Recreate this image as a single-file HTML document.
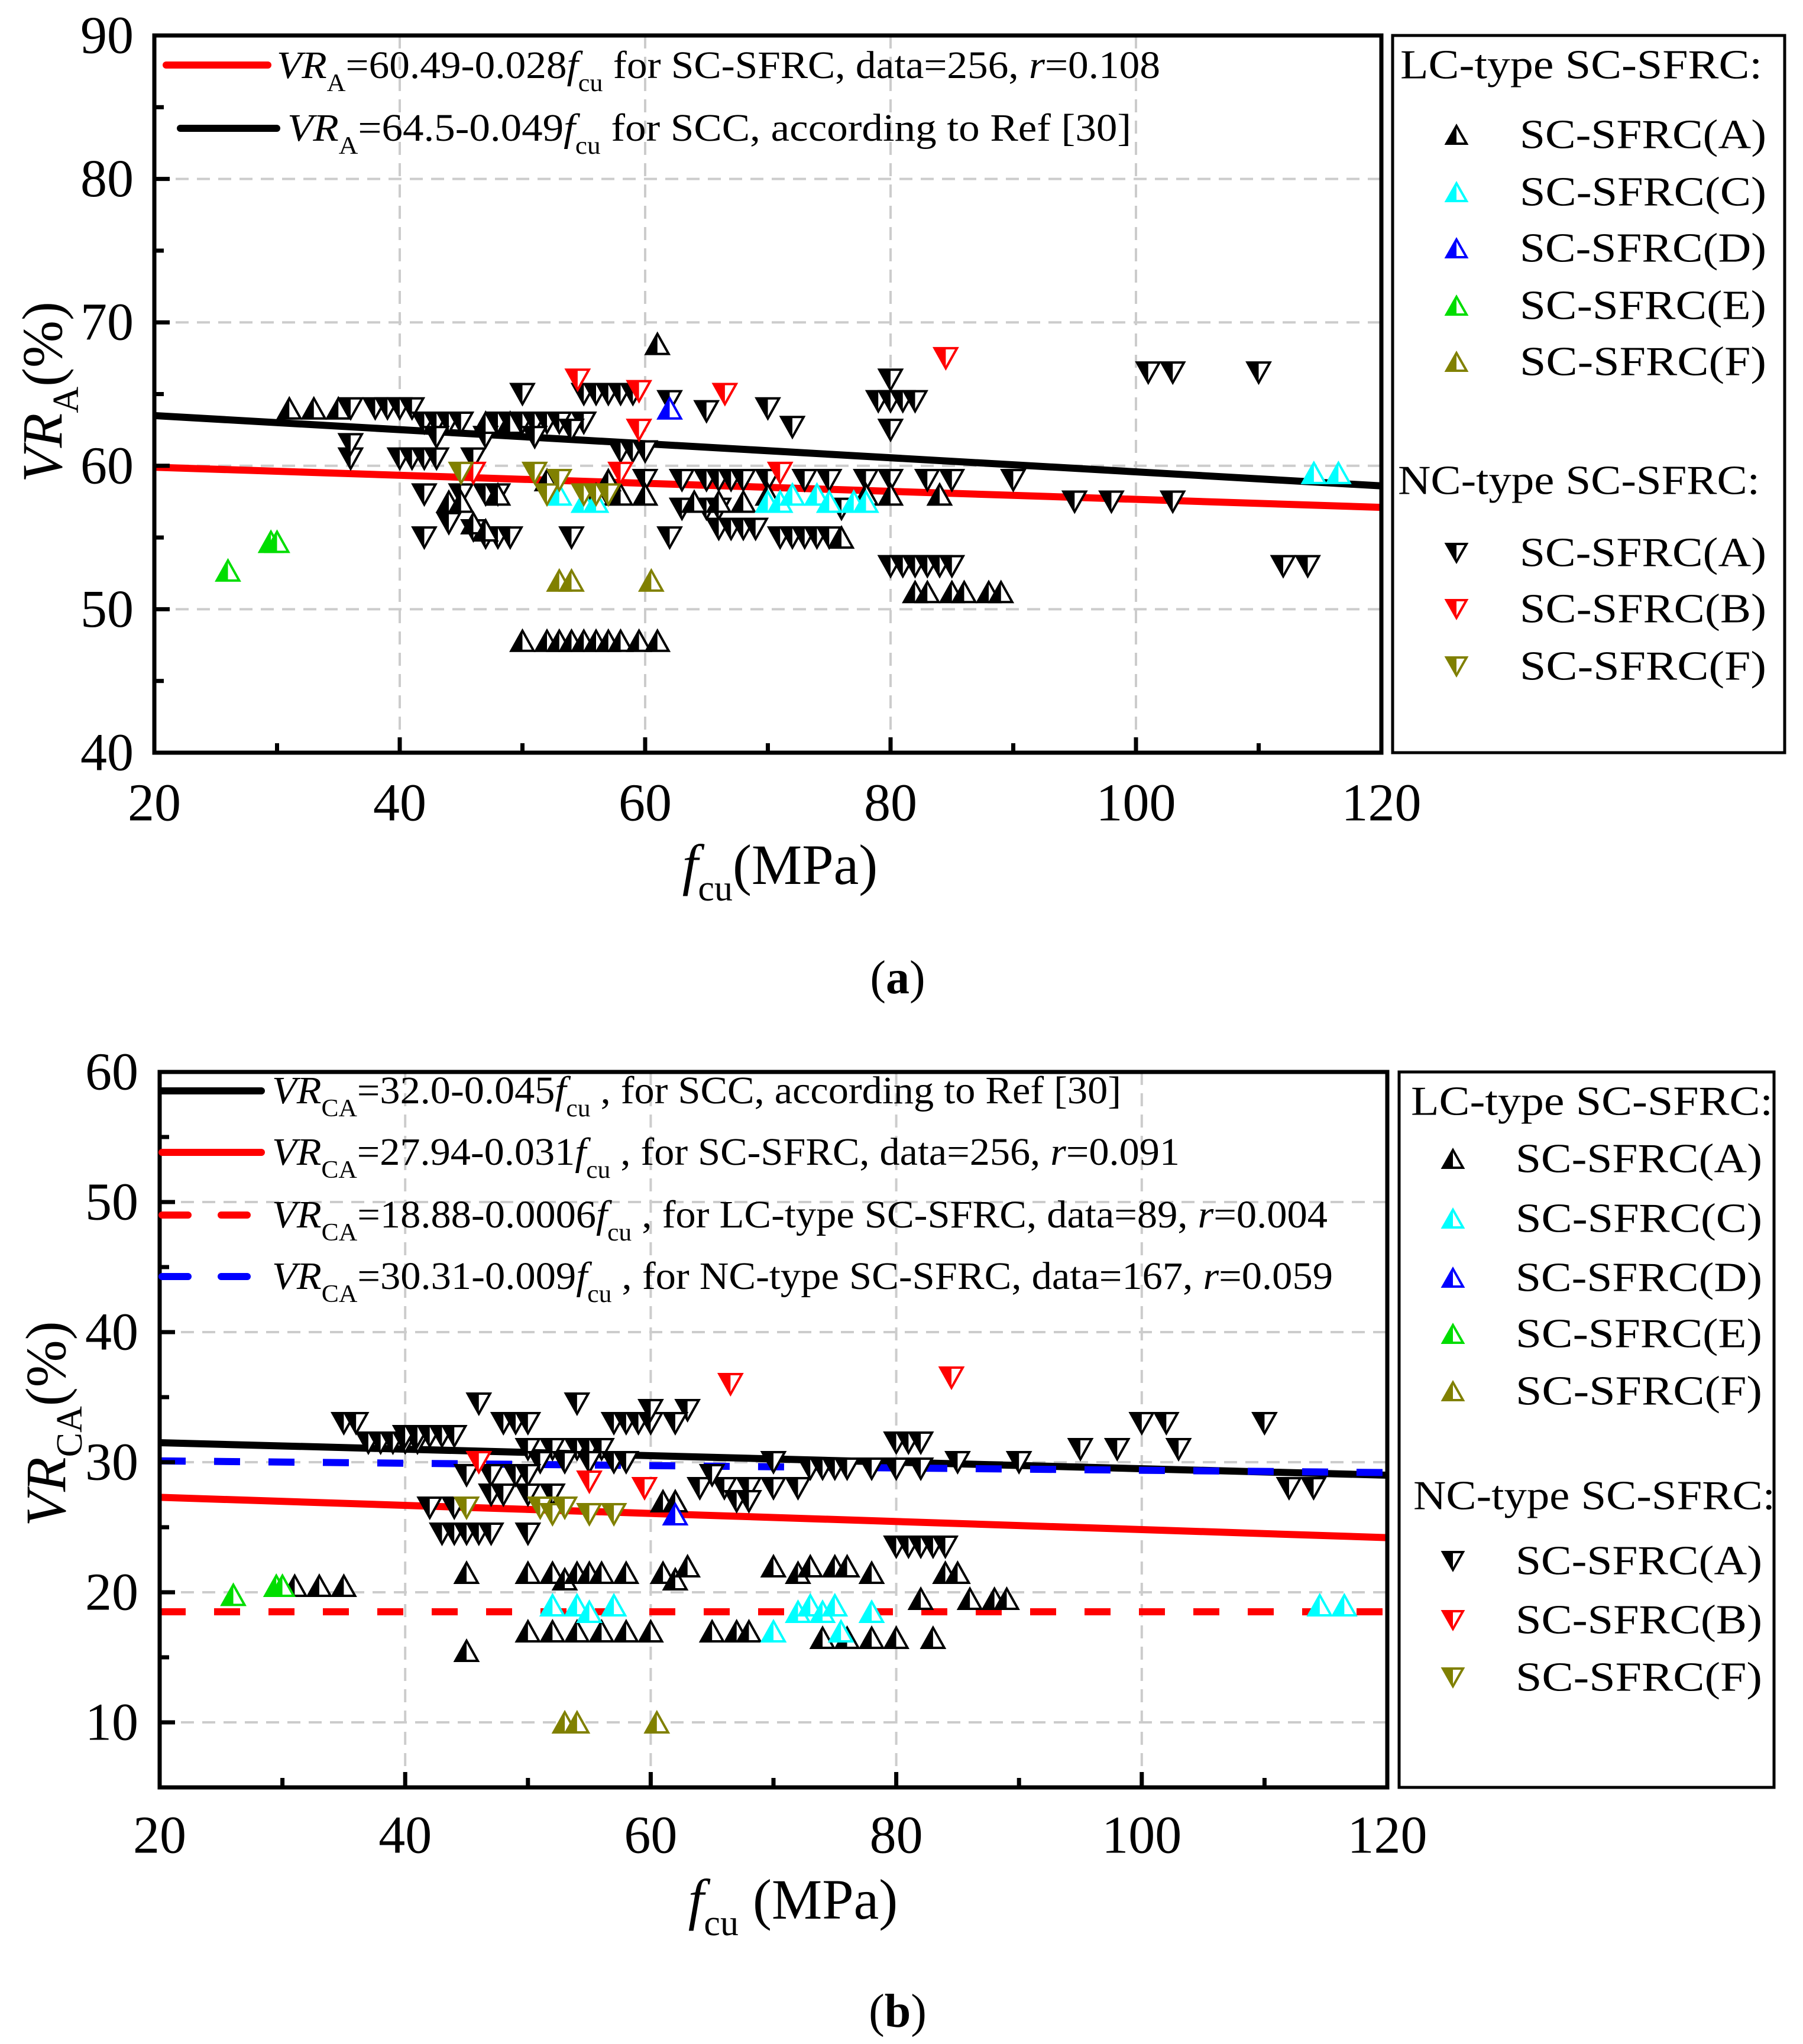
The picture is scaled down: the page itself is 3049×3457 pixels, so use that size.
<!DOCTYPE html>
<html><head><meta charset="utf-8"><style>
html,body{margin:0;padding:0;background:#fff}
svg{display:block;font-family:"Liberation Serif",serif}
</style></head><body>
<svg id="fig" width="3049" height="3457" viewBox="0 0 3049 3457" xmlns="http://www.w3.org/2000/svg" font-family="Liberation Serif, serif">
<rect width="3049" height="3457" fill="#fff"/>
</svg>
<script>
// ---------- DATA: panel (a) ----------
const aXTicks=[20,40,60,80,100,120];
const aYTicks=[40,50,60,70,80,90];
const aLcA=[[61,68.5],[31,64],[33,64],[35,64],[44,57.5],[45,57.5],[46,56],[47,55.5],[48,58],[50,47.8],[52,47.8],[53,47.8],[54,47.8],[55,47.8],[56,47.8],[57,47.8],[58,47.8],[59.5,47.8],[61,47.8],[56,58],[58,58],[60,58],[64,57.5],[66,57.5],[68,57.5],[70,58],[76,55],[78,58],[80,58],[82,51.2],[83,51.2],[85,51.2],[86,51.2],[88,51.2],[89,51.2],[84,58],[52,59],[57,59],[47,63],[49,63]];
const aLcC=[[53,58],[55,57.5],[56,57.5],[70,57.5],[71,57.5],[72,58],[74,58],[75,57.5],[77,57.5],[78,57.5],[114.5,59.5],[116.5,59.5]];
const aLcD=[[62,64]];
const aLcE=[[26,52.7],[29.5,54.7],[30,54.7]];
const aLcF=[[53,52],[54,52],[60.5,52]];
const aNcA=[[36,64],[38,64],[39,64],[40,64],[41,64],[42,63],[43,63],[44,63],[45,63],[48,63],[49,63],[50,63],[51,63],[52,63],[53,63],[55,63],[43,62],[47,62],[36,60.5],[40,60.5],[41,60.5],[42,60.5],[43,60.5],[46,60.5],[42,58],[45,58],[47,58],[48,58],[42,55],[47,55],[48,55],[49,55],[54,55],[50,65],[55,65],[56,65],[57,65],[58,65],[59,65],[58,61],[59,61],[60,61],[62,64.5],[65,63.8],[72,62.7],[70,64],[80,66],[79,64.5],[80,64.5],[81,64.5],[82,64.5],[80,62.5],[60,59],[63,59],[65,59],[66,59],[67,59],[68,59],[70,59],[73,59],[75,59],[78,59],[80,59],[83,59],[85,59],[63,57],[65,57],[66,57],[66,55.6],[67,55.6],[68,55.6],[69,55.6],[62,55],[71,55],[72,55],[73,55],[74,55],[75,55],[76,57],[80,53],[81,53],[82,53],[83,53],[84,53],[85,53],[90,59],[95,57.5],[98,57.5],[103,57.5],[101,66.5],[103,66.5],[110,66.5],[112,53],[114,53],[36,61.5],[44,56],[46,55.5],[51,62],[54,62.5]];
const aNcB=[[54.5,66],[59.5,65.2],[66.5,65],[84.5,67.5],[59.5,62.5],[46,59.5],[58,59.5],[71,59.5]];
const aNcF=[[45,59.5],[51,59.5],[52,58],[55,58],[56,58],[57,58],[53,59]];
const aRedLine=[59.9,57.1];
const aBlackLine=[63.5,58.6];
// ---------- DATA: panel (b) ----------
const bXTicks=[20,40,60,80,100,120];
const bYTicks=[10,20,30,40,50,60];
const bLcA=[[45,21.5],[45,15.5],[50,21.5],[52,21.5],[53,21],[54,21.5],[55,21.5],[56,21.5],[58,21.5],[61,21.5],[62,21],[63,22],[70,22],[72,21.5],[73,22],[75,22],[76,22],[78,21.5],[82,19.5],[84,21.5],[85,21.5],[86,19.5],[88,19.5],[89,19.5],[31,20.5],[33,20.5],[35,20.5],[50,17],[52,17],[54,17],[56,17],[58,17],[60,17],[65,17],[67,17],[68,17],[74,16.5],[76,16.5],[78,16.5],[80,16.5],[83,16.5],[61,27],[62,27]];
const bLcC=[[52,19],[54,19],[55,18.5],[57,19],[70,17],[72,18.5],[73,19],[74,18.5],[75,19],[75.5,17],[78,18.5],[114.5,19],[116.5,19]];
const bLcD=[[62,26]];
const bLcE=[[26,19.8],[29.5,20.5],[30,20.5]];
const bLcF=[[53,10],[54,10],[60.5,10]];
const bNcA=[[35,33],[36,33],[37,31.5],[38,31.5],[39,31.5],[40,31.5],[41,31.5],[40,32],[41,32],[42,32],[43,32],[44,32],[46,34.5],[48,33],[49,33],[50,33],[50,31],[52,31],[54,31],[55,31],[56,31],[54,34.5],[57,33],[58,33],[59,33],[60,33],[60,34],[63,34],[62,33],[51,30],[53,30],[55,30],[57,30],[58,30],[45,29],[47,29],[49,29],[50,29],[47,27.5],[48,27.5],[50,27.5],[52,27.5],[42,26.5],[44,26.5],[43,24.5],[44,24.5],[45,24.5],[46,24.5],[47,24.5],[50,24.5],[64,28],[66,28],[68,28],[70,28],[72,28],[67,27],[68,27],[73,29.5],[74,29.5],[75,29.5],[76,29.5],[78,29.5],[80,29.5],[80,31.5],[81,31.5],[82,31.5],[82,29.5],[85,30],[90,30],[95,31],[98,31],[100,33],[102,33],[103,31],[110,33],[112,28],[114,28],[80,23.5],[81,23.5],[82,23.5],[83,23.5],[84,23.5],[65,29],[70,30]];
const bNcB=[[46,30],[55,28.5],[59.5,28],[66.5,36],[84.5,36.5]];
const bNcF=[[45,26.5],[51,26.5],[52,26],[53,26.5],[55,26],[57,26]];
const bBlackLine=[31.5,29.0];
const bRedLine=[27.3,24.2];
const bRedDash=[18.5,18.5];
const bBlueDash=[30.1,29.2];

const NS="http://www.w3.org/2000/svg";
const svg=document.getElementById('fig');
function el(tag,attrs,parent){const e=document.createElementNS(NS,tag);for(const k in attrs)e.setAttribute(k,attrs[k]);(parent||svg).appendChild(e);return e;}

function tri(g,cx,cy,color,up){
  const w=19,h=17;
  let pts,left;
  if(up){pts=`${cx-w},${cy+h} ${cx},${cy-h} ${cx+w},${cy+h}`;left=`${cx-w},${cy+h} ${cx},${cy-h} ${cx},${cy+h}`;}
  else{pts=`${cx-w},${cy-h} ${cx+w},${cy-h} ${cx},${cy+h}`;left=`${cx-w},${cy-h} ${cx},${cy-h} ${cx},${cy+h}`;}
  const a=el('polygon',{points:pts,fill:'#fff',stroke:color,'stroke-width':4,'stroke-linejoin':'miter'},g);
  
  
  const b=el('polygon',{points:left,fill:color},g);
  
  
}

function panel(cfg){
  const {x0,x1,yTop,yBot,ymin,ymax,yTicks,xTicks,name}=cfg;
  const g=el('g',{});
  
  
  const X=v=>x0+(v-20)/100*(x1-x0);
  const Y=v=>yBot-(v-ymin)/(ymax-ymin)*(yBot-yTop);
  xTicks.forEach(v=>{if(v>20&&v<120){const l=el('line',{x1:X(v),x2:X(v),y1:yTop,y2:yBot,stroke:'#ccc','stroke-width':4,'stroke-dasharray':'22 14'},g);}});
  yTicks.forEach(v=>{if(v>ymin&&v<ymax){const l=el('line',{x1:x0,x2:x1,y1:Y(v),y2:Y(v),stroke:'#ccc','stroke-width':4,'stroke-dasharray':'22 14'},g);}});
  cfg.lines.forEach(L=>{
    const l=el('line',{x1:X(20),x2:X(120),y1:Y(L.v[0]),y2:Y(L.v[1]),stroke:L.c,'stroke-width':12},g);
    if(L.dash)l.setAttribute('stroke-dasharray','44 48');
    
    
  });
  cfg.series.forEach(S=>{
    const sg=el('g',{},g);
    
    
    S.d.forEach(p=>tri(sg,X(p[0]),Y(p[1]),S.c,S.up));
  });
  const f=el('rect',{x:x0,y:yTop,width:x1-x0,height:yBot-yTop,fill:'none',stroke:'#000','stroke-width':7},g);
  
  
  for(let v=ymin;v<=ymax;v+=5){const major=yTicks.includes(v);const t=el('line',{x1:x0,x2:x0+(major?26:16),y1:Y(v),y2:Y(v),stroke:'#000','stroke-width':7},g);}
  for(let v=20;v<=120;v+=10){const major=xTicks.includes(v);const t=el('line',{x1:X(v),x2:X(v),y1:yBot,y2:yBot-(major?26:16),stroke:'#000','stroke-width':7},g);}
  yTicks.forEach(v=>{const t=el('text',{x:cfg.yLabX,y:Y(v),'font-size':90,'font-family':'Liberation Serif, serif','text-anchor':'end','dominant-baseline':'central'},g);t.textContent=v;});
  xTicks.forEach(v=>{const t=el('text',{x:X(v),y:cfg.xLabY,'font-size':90,'font-family':'Liberation Serif, serif','text-anchor':'middle','dominant-baseline':'central'},g);t.textContent=v;});
  return g;
}

panel({name:'panel-a',x0:261,x1:2336,yTop:60,yBot:1273,ymin:40,ymax:90,yTicks:aYTicks,xTicks:aXTicks,yLabX:226,xLabY:1358,
  lines:[{v:aBlackLine,c:'#000',n:'scc-fit-line'},{v:aRedLine,c:'#f00',n:'sc-sfrc-fit-line'}],
  series:[{d:aNcA,c:'#000',up:false,n:'nc-a-series'},{d:aLcA,c:'#000',up:true,n:'lc-a-series'},{d:aLcC,c:'#00ffff',up:true,n:'lc-c-series'},{d:aLcD,c:'#0000ff',up:true,n:'lc-d-series'},{d:aLcE,c:'#00dd00',up:true,n:'lc-e-series'},{d:aLcF,c:'#808000',up:true,n:'lc-f-series'},{d:aNcB,c:'#f00',up:false,n:'nc-b-series'},{d:aNcF,c:'#808000',up:false,n:'nc-f-series'}]});
panel({name:'panel-b',x0:270,x1:2346,yTop:1813,yBot:3023,ymin:5,ymax:60,yTicks:bYTicks,xTicks:bXTicks,yLabX:234,xLabY:3104,
  lines:[{v:bBlackLine,c:'#000',n:'scc-fit-line'},{v:bRedLine,c:'#f00',n:'sc-sfrc-fit-line'},{v:bRedDash,c:'#f00',dash:1,n:'lc-fit-line'},{v:bBlueDash,c:'#0000ff',dash:1,n:'nc-fit-line'}],
  series:[{d:bNcA,c:'#000',up:false,n:'nc-a-series'},{d:bLcA,c:'#000',up:true,n:'lc-a-series'},{d:bLcC,c:'#00ffff',up:true,n:'lc-c-series'},{d:bLcD,c:'#0000ff',up:true,n:'lc-d-series'},{d:bLcE,c:'#00dd00',up:true,n:'lc-e-series'},{d:bLcF,c:'#808000',up:true,n:'lc-f-series'},{d:bNcB,c:'#f00',up:false,n:'nc-b-series'},{d:bNcF,c:'#808000',up:false,n:'nc-f-series'}]});
</script>
<svg style="position:absolute;left:0;top:0" width="3049" height="3457" viewBox="0 0 3049 3457" xmlns="http://www.w3.org/2000/svg" font-family="Liberation Serif, serif">
<g>
<line x1="281" y1="110" x2="453" y2="110" stroke="#f00" stroke-width="12" stroke-linecap="round"/>
<text x="468" y="132" font-size="66" textLength="1494" lengthAdjust="spacingAndGlyphs"><tspan font-style="italic">VR</tspan><tspan font-size="42" dy="22">A</tspan><tspan dy="-22">=60.49-0.028</tspan><tspan font-style="italic">f</tspan><tspan font-size="42" dy="22">cu</tspan><tspan dy="-22">  for SC-SFRC, data=256, </tspan><tspan font-style="italic">r</tspan><tspan>=0.108</tspan></text>
<line x1="305" y1="217" x2="468" y2="217" stroke="#000" stroke-width="12" stroke-linecap="round"/>
<text x="486" y="238" font-size="66" textLength="1427" lengthAdjust="spacingAndGlyphs"><tspan font-style="italic">VR</tspan><tspan font-size="42" dy="22">A</tspan><tspan dy="-22">=64.5-0.049</tspan><tspan font-style="italic">f</tspan><tspan font-size="42" dy="22">cu</tspan><tspan dy="-22">  for SCC,  according to Ref [30]</tspan></text>
</g>
<g>
<line x1="274" y1="1845" x2="442" y2="1845" stroke="#000" stroke-width="12" stroke-linecap="round"/>
<text x="460" y="1866" font-size="66" textLength="1436" lengthAdjust="spacingAndGlyphs"><tspan font-style="italic">VR</tspan><tspan font-size="42" dy="22">CA</tspan><tspan dy="-22">=32.0-0.045</tspan><tspan font-style="italic">f</tspan><tspan font-size="42" dy="22">cu</tspan><tspan dy="-22"> , for SCC, according to Ref [30]</tspan></text>
<line x1="274" y1="1949" x2="442" y2="1949" stroke="#f00" stroke-width="12" stroke-linecap="round"/>
<text x="460" y="1970" font-size="66" textLength="1535" lengthAdjust="spacingAndGlyphs"><tspan font-style="italic">VR</tspan><tspan font-size="42" dy="22">CA</tspan><tspan dy="-22">=27.94-0.031</tspan><tspan font-style="italic">f</tspan><tspan font-size="42" dy="22">cu</tspan><tspan dy="-22"> , for SC-SFRC, data=256, </tspan><tspan font-style="italic">r</tspan><tspan>=0.091</tspan></text>
<line x1="274" y1="2055" x2="442" y2="2055" stroke="#f00" stroke-width="12" stroke-dasharray="44 56" stroke-linecap="round"/>
<text x="460" y="2076" font-size="66" textLength="1785" lengthAdjust="spacingAndGlyphs"><tspan font-style="italic">VR</tspan><tspan font-size="42" dy="22">CA</tspan><tspan dy="-22">=18.88-0.0006</tspan><tspan font-style="italic">f</tspan><tspan font-size="42" dy="22">cu</tspan><tspan dy="-22"> , for LC-type SC-SFRC, data=89, </tspan><tspan font-style="italic">r</tspan><tspan>=0.004</tspan></text>
<line x1="274" y1="2159" x2="442" y2="2159" stroke="#0000ff" stroke-width="12" stroke-dasharray="44 56" stroke-linecap="round"/>
<text x="460" y="2180" font-size="66" textLength="1794" lengthAdjust="spacingAndGlyphs"><tspan font-style="italic">VR</tspan><tspan font-size="42" dy="22">CA</tspan><tspan dy="-22">=30.31-0.009</tspan><tspan font-style="italic">f</tspan><tspan font-size="42" dy="22">cu</tspan><tspan dy="-22"> , for NC-type SC-SFRC, data=167, </tspan><tspan font-style="italic">r</tspan><tspan>=0.059</tspan></text>
</g>
<text x="1319" y="1495" font-size="96" text-anchor="middle"><tspan font-style="italic">f</tspan><tspan font-size="62" dy="28">cu</tspan><tspan dy="-28">(MPa)</tspan></text>
<text transform="translate(104,663) rotate(-90)" font-size="96" text-anchor="middle"><tspan font-style="italic">VR</tspan><tspan font-size="62" dy="28">A</tspan><tspan dy="-28">(%)</tspan></text>
<text x="1518" y="1680" font-size="80" text-anchor="middle">(<tspan font-weight="bold">a</tspan>)</text>
<text x="1341" y="3245" font-size="96" text-anchor="middle"><tspan font-style="italic">f</tspan><tspan font-size="62" dy="28">cu</tspan><tspan dy="-28"> (MPa)</tspan></text>
<text transform="translate(110,2408) rotate(-90)" font-size="96" text-anchor="middle"><tspan font-style="italic">VR</tspan><tspan font-size="62" dy="28">CA</tspan><tspan dy="-28">(%)</tspan></text>
<text x="1518" y="3428" font-size="80" text-anchor="middle">(<tspan font-weight="bold">b</tspan>)</text>
<rect x="2355" y="60" width="663" height="1213" fill="none" stroke="#000" stroke-width="5"/>
<rect x="2366" y="1813" width="634" height="1210" fill="none" stroke="#000" stroke-width="5"/>
<g id="legs" font-size="70"></g>
</svg>
<script>
const legItems=[['SC-SFRC(A)','#000',true],['SC-SFRC(C)','#00ffff',true],['SC-SFRC(D)','#0000ff',true],['SC-SFRC(E)','#00dd00',true],['SC-SFRC(F)','#808000',true]];
const legNc=[['SC-SFRC(A)','#000',false],['SC-SFRC(B)','#f00',false],['SC-SFRC(F)','#808000',false]];
const lg=document.getElementById('legs');
function mk(tag,a){const e=document.createElementNS("http://www.w3.org/2000/svg",tag);for(const k in a)e.setAttribute(k,a[k]);lg.appendChild(e);return e;}
function legend(hx,hy,ys,hx2,hy2,ys2,mx,tx){
  let h=mk('text',{x:hx,y:hy,'dominant-baseline':'central',textLength:612,lengthAdjust:'spacingAndGlyphs'});h.textContent='LC-type SC-SFRC:';
  
  
  legItems.forEach((it,i)=>entry(it,ys[i],mx,tx));
  h=mk('text',{x:hx2,y:hy2,'dominant-baseline':'central',textLength:612,lengthAdjust:'spacingAndGlyphs'});h.textContent='NC-type SC-SFRC:';
  
  
  legNc.forEach((it,i)=>entry(it,ys2[i],mx,tx));
}
function entry(it,y,mx,tx){
  const w=17,hh=15,up=it[2];
  const pts=up?`${mx-w},${y+hh} ${mx},${y-hh} ${mx+w},${y+hh}`:`${mx-w},${y-hh} ${mx+w},${y-hh} ${mx},${y+hh}`;
  const half=up?`${mx-w},${y+hh} ${mx},${y-hh} ${mx},${y+hh}`:`${mx-w},${y-hh} ${mx},${y-hh} ${mx},${y+hh}`;
  const a=mk('polygon',{points:pts,fill:'#fff',stroke:it[1],'stroke-width':4});
  
  
  mk('polygon',{points:half,fill:it[1]});
  const t=mk('text',{x:tx,y:y,'dominant-baseline':'central',textLength:417,lengthAdjust:'spacingAndGlyphs'});t.textContent=it[0];
  
  
}
legend(2368,110,[228,325,420,517,612],2364,813,[935,1030,1127],2463,2570);
legend(2386,1863,[1960,2061,2161,2256,2353],2390,2530,[2640,2740,2837],2457,2563);
</script>
</body></html>
